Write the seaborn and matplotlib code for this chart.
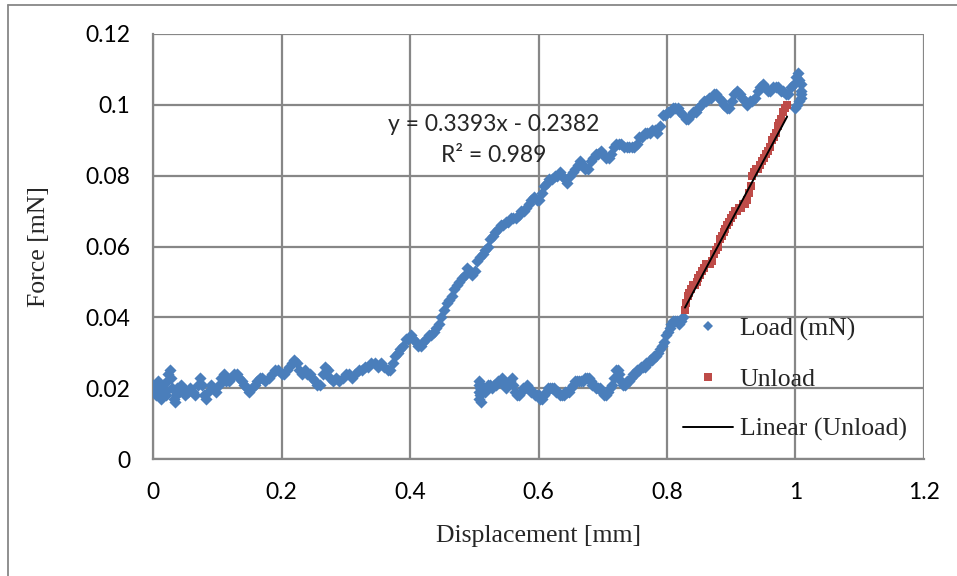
import numpy as np
import pandas as pd
import seaborn as sns
import matplotlib.pyplot as plt
from matplotlib.lines import Line2D

# Loading curve (mN vs mm)
load_x = [
    0.000, 0.002, 0.004, 0.006, 0.008, 0.010, 0.012, 0.014, 0.016, 0.018,
    0.020, 0.022, 0.024, 0.026, 0.028, 0.030, 0.032, 0.034, 0.036, 0.038,
    0.041, 0.044, 0.047, 0.050, 0.054, 0.058, 0.062, 0.066, 0.070, 0.073,
    0.076, 0.079, 0.082, 0.086, 0.090, 0.094, 0.098, 0.102, 0.106, 0.110,
    0.114, 0.118, 0.122, 0.126, 0.130, 0.134, 0.138, 0.142, 0.146, 0.150,
    0.154, 0.158, 0.162, 0.166, 0.170, 0.175, 0.180, 0.185, 0.190, 0.195,
    0.200, 0.204, 0.208, 0.212, 0.216, 0.220, 0.224, 0.228, 0.232, 0.236,
    0.240, 0.244, 0.248, 0.252, 0.256, 0.260, 0.264, 0.268, 0.272, 0.276,
    0.280, 0.285, 0.290, 0.295, 0.300, 0.305, 0.310, 0.315, 0.320, 0.325,
    0.330, 0.335, 0.340, 0.345, 0.350, 0.355, 0.360, 0.365, 0.369, 0.373,
    0.377, 0.381, 0.385, 0.389, 0.393, 0.397, 0.401, 0.405, 0.409, 0.413,
    0.417, 0.421, 0.425, 0.429, 0.433, 0.437, 0.441, 0.445, 0.449, 0.453,
    0.457, 0.461, 0.465, 0.469, 0.473, 0.477, 0.481, 0.485, 0.489, 0.493,
    0.497, 0.501, 0.505, 0.509, 0.513, 0.517, 0.521, 0.525, 0.529, 0.533,
    0.537, 0.541, 0.545, 0.549, 0.553, 0.557, 0.561, 0.565, 0.569, 0.573,
    0.577, 0.581, 0.585, 0.589, 0.593, 0.597, 0.601, 0.605, 0.609, 0.613,
    0.617, 0.621, 0.625, 0.629, 0.633, 0.637, 0.641, 0.645, 0.649, 0.653,
    0.657, 0.661, 0.665, 0.669, 0.673, 0.677, 0.681, 0.685, 0.689, 0.693,
    0.697, 0.701, 0.705, 0.709, 0.713, 0.717, 0.721, 0.725, 0.729, 0.733,
    0.737, 0.741, 0.745, 0.749, 0.753, 0.757, 0.761, 0.765, 0.769, 0.773,
    0.777, 0.781, 0.785, 0.789, 0.793, 0.797, 0.801, 0.805, 0.809, 0.813,
    0.817, 0.821, 0.825, 0.829, 0.833, 0.837, 0.841, 0.845, 0.849, 0.853,
    0.857, 0.861, 0.865, 0.869, 0.873, 0.877, 0.881, 0.885, 0.889, 0.893,
    0.897, 0.901, 0.905, 0.909, 0.913, 0.917, 0.921, 0.925, 0.929, 0.933,
    0.937, 0.941, 0.945, 0.949, 0.953, 0.957, 0.961, 0.965, 0.969, 0.973,
    0.977, 0.981, 0.985, 0.989, 0.993, 0.997, 1.001, 1.004, 1.006, 1.008,
    1.009, 1.009, 1.008, 1.006, 1.003, 0.999,
    # return branch
    0.507, 0.507, 0.508, 0.508, 0.509, 0.509, 0.510, 0.511, 0.513, 0.516,
    0.519, 0.522, 0.525, 0.528, 0.531, 0.534, 0.537, 0.540, 0.543, 0.546,
    0.549, 0.552, 0.555, 0.558, 0.561, 0.564, 0.567, 0.570, 0.573, 0.576,
    0.579, 0.582, 0.585, 0.588, 0.591, 0.594, 0.597, 0.600, 0.603, 0.606,
    0.609, 0.612, 0.615, 0.618, 0.621, 0.624, 0.627, 0.630, 0.633, 0.636,
    0.639, 0.642, 0.645, 0.648, 0.651, 0.654, 0.657, 0.660, 0.663, 0.666,
    0.669, 0.672, 0.675, 0.678, 0.681, 0.684, 0.687, 0.690, 0.693, 0.696,
    0.699, 0.702, 0.705, 0.708, 0.711, 0.714, 0.717, 0.720, 0.723, 0.726,
    0.729, 0.732, 0.735, 0.738, 0.741, 0.744, 0.747, 0.750, 0.753, 0.756,
    0.759, 0.762, 0.765, 0.768, 0.771, 0.774, 0.777, 0.780, 0.783, 0.786,
    0.789, 0.792, 0.795, 0.798, 0.801, 0.804, 0.807, 0.810, 0.813, 0.816,
    0.819, 0.822, 0.825,
]
load_y = [
    0.021, 0.019, 0.018, 0.020, 0.022, 0.019, 0.017, 0.020, 0.021, 0.019,
    0.018, 0.022, 0.024, 0.025, 0.023, 0.020, 0.017, 0.016, 0.018, 0.020,
    0.019, 0.021, 0.020, 0.018, 0.019, 0.020, 0.019, 0.018, 0.021, 0.023,
    0.021, 0.018, 0.017, 0.019, 0.021, 0.020, 0.019, 0.021, 0.023, 0.024,
    0.022, 0.022, 0.023, 0.024, 0.024, 0.023, 0.022, 0.021, 0.020, 0.019,
    0.020, 0.021, 0.022, 0.023, 0.023, 0.022, 0.023, 0.024, 0.025, 0.025,
    0.024, 0.024, 0.025, 0.026, 0.027, 0.028, 0.027, 0.025, 0.024, 0.025,
    0.024, 0.024, 0.023, 0.022, 0.021, 0.021, 0.024, 0.026, 0.025, 0.023,
    0.022, 0.023, 0.022, 0.023, 0.024, 0.024, 0.023, 0.024, 0.025, 0.025,
    0.026, 0.026, 0.027, 0.027, 0.026, 0.027, 0.026, 0.025, 0.025, 0.027,
    0.029, 0.030, 0.031, 0.032, 0.034, 0.034, 0.035, 0.034, 0.033, 0.032,
    0.032, 0.033, 0.034, 0.035, 0.035, 0.036, 0.037, 0.038, 0.040, 0.042,
    0.044, 0.045, 0.046, 0.048, 0.049, 0.050, 0.051, 0.052, 0.054, 0.053,
    0.052, 0.053, 0.056, 0.057, 0.058, 0.059, 0.060, 0.062, 0.063, 0.064,
    0.065, 0.066, 0.066, 0.067, 0.067, 0.068, 0.068, 0.068, 0.069, 0.070,
    0.070, 0.071, 0.072, 0.073, 0.074, 0.073, 0.073, 0.075, 0.077, 0.078,
    0.079, 0.079, 0.080, 0.080, 0.081, 0.080, 0.079, 0.078, 0.080, 0.081,
    0.082, 0.083, 0.084, 0.083, 0.082, 0.082, 0.084, 0.085, 0.086, 0.086,
    0.087, 0.086, 0.085, 0.085, 0.086, 0.088, 0.089, 0.089, 0.089, 0.088,
    0.088, 0.088, 0.088, 0.088, 0.089, 0.091, 0.091, 0.092, 0.092, 0.092,
    0.093, 0.093, 0.092, 0.094, 0.097, 0.097, 0.098, 0.098, 0.099, 0.099,
    0.099, 0.098, 0.097, 0.096, 0.096, 0.097, 0.098, 0.098, 0.099, 0.100,
    0.101, 0.101, 0.102, 0.102, 0.103, 0.103, 0.102, 0.101, 0.100, 0.099,
    0.099, 0.101, 0.103, 0.104, 0.103, 0.102, 0.101, 0.100, 0.101, 0.101,
    0.102, 0.104, 0.105, 0.106, 0.105, 0.104, 0.104, 0.105, 0.105, 0.105,
    0.104, 0.104, 0.103, 0.103, 0.105, 0.106, 0.108, 0.109, 0.107, 0.106,
    0.104, 0.103, 0.102, 0.101, 0.100, 0.099,
    # return branch
    0.017, 0.019, 0.021, 0.022, 0.018, 0.020, 0.016, 0.021, 0.020, 0.019,
    0.020, 0.021, 0.021, 0.020, 0.021, 0.021, 0.022, 0.022, 0.023, 0.021,
    0.020, 0.021, 0.022, 0.023, 0.021, 0.019, 0.018, 0.018, 0.019, 0.020,
    0.020, 0.021, 0.020, 0.019, 0.019, 0.018, 0.018, 0.018, 0.017, 0.017,
    0.018, 0.019, 0.020, 0.020, 0.020, 0.020, 0.019, 0.019, 0.018, 0.018,
    0.018, 0.019, 0.019, 0.019, 0.020, 0.021, 0.022, 0.022, 0.022, 0.022,
    0.022, 0.023, 0.023, 0.023, 0.022, 0.021, 0.021, 0.020, 0.020, 0.020,
    0.019, 0.018, 0.018, 0.019, 0.020, 0.021, 0.023, 0.025, 0.025, 0.024,
    0.022, 0.021, 0.021, 0.022, 0.022, 0.023, 0.024, 0.024, 0.025, 0.025,
    0.026, 0.026, 0.026, 0.027, 0.027, 0.028, 0.028, 0.029, 0.029, 0.030,
    0.031, 0.032, 0.033, 0.035, 0.036, 0.037, 0.038, 0.039, 0.039, 0.039,
    0.038, 0.039, 0.040,
]

# Unloading curve
unload_x = [
    0.828, 0.830, 0.832, 0.834, 0.837, 0.840, 0.843, 0.846, 0.849, 0.852,
    0.855, 0.858, 0.861, 0.864, 0.867, 0.870, 0.873, 0.876, 0.879, 0.882,
    0.885, 0.888, 0.891, 0.894, 0.897, 0.900, 0.903, 0.906, 0.909, 0.912,
    0.915, 0.918, 0.921, 0.924, 0.927, 0.930, 0.933, 0.936, 0.939, 0.942,
    0.945, 0.948, 0.951, 0.954, 0.957, 0.960, 0.963, 0.966, 0.969, 0.972,
    0.975, 0.978, 0.981, 0.984, 0.987,
]
unload_y = [
    0.042, 0.044, 0.046, 0.047, 0.048, 0.049, 0.049, 0.050, 0.051, 0.052,
    0.053, 0.054, 0.055, 0.055, 0.055, 0.056, 0.058, 0.059, 0.060, 0.062,
    0.063, 0.064, 0.065, 0.066, 0.067, 0.068, 0.069, 0.070, 0.070, 0.071,
    0.071, 0.072, 0.072, 0.073, 0.075, 0.077, 0.080, 0.081, 0.082, 0.082,
    0.083, 0.084, 0.085, 0.086, 0.087, 0.088, 0.090, 0.091, 0.092, 0.094,
    0.095, 0.096, 0.098, 0.099, 0.100,
]

# Linear trend of the unloading branch
fit_slope = 0.3393
fit_intercept = -0.2382
fit_r2 = 0.989

x_ticks = [0, 0.2, 0.4, 0.6, 0.8, 1.0, 1.2]
x_tick_labels = ["0", "0.2", "0.4", "0.6", "0.8", "1", "1.2"]
y_ticks = [0, 0.02, 0.04, 0.06, 0.08, 0.10, 0.12]
y_tick_labels = ["0", "0.02", "0.04", "0.06", "0.08", "0.1", "0.12"]

BLUE = "#4A7EBB"
RED = "#BE4B48"
GRID = "#878787"

sns.set_style("white")
plt.rcParams["font.family"] = ["Lato", "DejaVu Sans"]

fig = plt.figure(figsize=(9.57, 5.76), dpi=100)
ax = fig.add_axes([153 / 957, 1 - 459 / 576, (924 - 153) / 957, (459 - 34) / 576])

load_df = pd.DataFrame({"x": load_x, "y": load_y})
unload_df = pd.DataFrame({"x": unload_x, "y": unload_y})
fit_x = np.array([min(unload_x), max(unload_x)])
fit_df = pd.DataFrame({"x": fit_x, "y": fit_slope * fit_x + fit_intercept})

sns.scatterplot(data=load_df, x="x", y="y", ax=ax, marker="D", s=38,
                color=BLUE, linewidth=0, zorder=3)
sns.scatterplot(data=unload_df, x="x", y="y", ax=ax, marker="s", s=36,
                color=RED, linewidth=0, zorder=4)
sns.lineplot(data=fit_df, x="x", y="y", ax=ax, color="black", linewidth=1.4,
             zorder=5)

ax.set_xlim(0, 1.2)
ax.set_ylim(0, 0.12)
ax.set_xticks(x_ticks)
ax.set_xticklabels(x_tick_labels)
ax.set_yticks(y_ticks)
ax.set_yticklabels(y_tick_labels)
ax.grid(True, color=GRID, linewidth=1.6)
ax.set_axisbelow(True)
for side in ["top", "right"]:
    ax.spines[side].set_visible(False)
for side in ["left", "bottom"]:
    ax.spines[side].set_color(GRID)
    ax.spines[side].set_linewidth(1.6)
ax.tick_params(axis="both", which="major", direction="out", length=4.5,
               width=1.6, color=GRID, labelsize=16.5, pad=12)
for lab in ax.get_xticklabels() + ax.get_yticklabels():
    lab.set_color("black")

ax.set_xlabel("Displacement [mm]", family="Liberation Serif", fontsize=18.5,
              labelpad=16)
ax.set_ylabel("Force [mN]", family="Liberation Serif", fontsize=18.5,
              labelpad=25)

ax.text(0.5295, 0.0900,
        f"y = {fit_slope:.4f}x - {abs(fit_intercept):.4f}\nR² = {fit_r2:.3f}",
        ha="center", va="center", fontsize=16.5, linespacing=1.58)

handles = [
    Line2D([], [], linestyle="none", marker="D", markersize=4.6,
           markerfacecolor=BLUE, markeredgewidth=0),
    Line2D([], [], linestyle="none", marker="s", markersize=5.5,
           markerfacecolor=RED, markeredgewidth=0),
    Line2D([], [], color="black", linewidth=1.4),
]
ax.legend(handles, ["Load (mN)", "Unload", "Linear (Unload)"],
          loc="upper left", bbox_to_anchor=(0.687, 0.333), frameon=False,
          prop={"family": "Liberation Serif", "size": 18.5},
          labelspacing=1.05, handlelength=1.95, handletextpad=0.27,
          borderaxespad=0, borderpad=0)

# chart area border
fig.add_artist(Line2D([8 / 957, 8 / 957], [0, 1 - 5 / 576], color=GRID,
                      linewidth=1.3, transform=fig.transFigure))
fig.add_artist(Line2D([8 / 957, 1], [1 - 5 / 576, 1 - 5 / 576], color=GRID,
                      linewidth=1.3, transform=fig.transFigure))

fig.savefig("out.png", dpi=100, facecolor="white")
